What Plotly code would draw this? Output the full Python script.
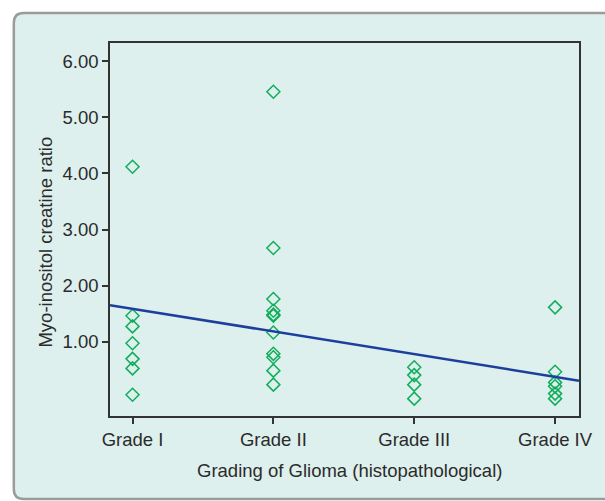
import plotly.graph_objects as go

# ---- data ----
grade_labels = ["Grade I", "Grade II", "Grade III", "Grade IV"]
grade1 = [4.12, 1.46, 1.27, 0.97, 0.69, 0.52, 0.05]
grade2 = [5.46, 2.67, 1.76, 1.55, 1.48, 1.46, 1.16, 0.78, 0.72, 0.48, 0.23]
grade3 = [0.54, 0.40, 0.23, -0.02]
grade4 = [1.61, 0.46, 0.27, 0.20, 0.07, -0.02]
fit_intercept = 1.585
fit_slope = -0.405
y_ticks = [1, 2, 3, 4, 5, 6]
y_ticklabels = ["1.00", "2.00", "3.00", "4.00", "5.00", "6.00"]

X_RANGE = [-0.16, 3.17]
Y_RANGE = [-0.33, 6.33]

BG = "#ddf0ed"
GREEN = "#12ad5c"
BLUE = "#1c3f9e"
FONT = "Liberation Sans, Arial, sans-serif"
FS = 18.5

W, H = 605, 501
ML, MR, MT, MB = 110, 22, 43, 85
PW = W - ML - MR
PH = H - MT - MB


def px(x):
    return (x - ML) / PW


def py(y):
    return (H - MB - y) / PH


groups = [grade1, grade2, grade3, grade4]
xs, ys = [], []
for i, g in enumerate(groups):
    xs += [i] * len(g)
    ys += g

fig = go.Figure()
fig.add_trace(go.Scatter(
    x=xs, y=ys, mode="markers",
    marker=dict(symbol="diamond-open", size=10, color=GREEN, line=dict(width=1.5, color=GREEN)),
    showlegend=False, hoverinfo="skip"))
fig.add_trace(go.Scatter(
    x=X_RANGE, y=[fit_intercept + fit_slope * v for v in X_RANGE], mode="lines",
    line=dict(color=BLUE, width=2.5), showlegend=False, hoverinfo="skip", cliponaxis=True))

# rounded outer frame
r = 10
L, T, R, B = 13, 13, 640, 499
path = (f"M {px(L)} {py(B - r)} L {px(L)} {py(T + r)} Q {px(L)} {py(T)} {px(L + r)} {py(T)} "
        f"L {px(R)} {py(T)} L {px(R)} {py(B)} L {px(L + r)} {py(B)} Q {px(L)} {py(B)} {px(L)} {py(B - r)} Z")
fig.add_shape(type="path", path=path, xref="paper", yref="paper", layer="below",
              fillcolor=BG, line=dict(color="#9b9b9b", width=2.5))

fig.add_annotation(text="Myo-inositol creatine ratio", xref="paper", yref="paper",
                   x=px(44), y=py(242), textangle=-90, showarrow=False,
                   font=dict(family=FONT, size=FS, color="#2b2b2b"), xanchor="center", yanchor="middle")
fig.add_annotation(text="Grading of Glioma (histopathological)", xref="paper", yref="paper",
                   x=px(352), y=py(471), showarrow=False,
                   font=dict(family=FONT, size=FS, color="#2b2b2b"), xanchor="center", yanchor="middle")

axis_common = dict(showgrid=False, zeroline=False, showline=True, linecolor="#333333", linewidth=1.5,
                   mirror=True, ticks="outside", ticklen=6, tickwidth=1.5, tickcolor="#333333",
                   tickfont=dict(family=FONT, size=FS, color="#2b2b2b"))
fig.update_xaxes(range=X_RANGE, tickvals=[0, 1, 2, 3], ticktext=grade_labels, **axis_common)
fig.update_yaxes(range=Y_RANGE, tickvals=y_ticks, ticktext=y_ticklabels, **axis_common)

fig.update_layout(width=W, height=H, margin=dict(l=ML, r=MR, t=MT, b=MB),
                  paper_bgcolor="white", plot_bgcolor="rgba(0,0,0,0)",
                  font=dict(family=FONT, size=FS, color="#2b2b2b"))

fig.write_html("out.html")
